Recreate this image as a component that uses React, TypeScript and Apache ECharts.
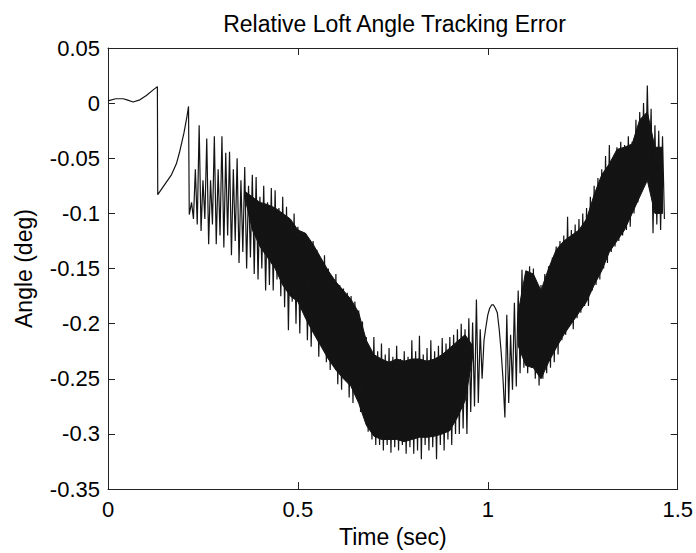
import React, { useEffect, useRef } from "react";
import * as echarts from "echarts";

const TITLE = "Relative Loft Angle Tracking Error";
const X_NAME = "Time (sec)";
const Y_NAME = "Angle (deg)";
const X_MIN = 0;
const X_MAX = 1.5;
const X_STEP = 0.5;
const Y_MIN = -0.35;
const Y_MAX = 0.05;
const Y_STEP = 0.05;

// smooth start of the signal (time, angle)
const earlyTime = [0, 0.02, 0.04, 0.05, 0.066, 0.084, 0.101, 0.119, 0.13, 0.131, 0.145, 0.167, 0.18, 0.188, 0.2, 0.208, 0.212, 0.214];
const earlyAngle = [0.002, 0.004, 0.004, 0.003, 0.001, 0.003, 0.007, 0.012, 0.015, -0.083, -0.076, -0.065, -0.055, -0.045, -0.027, -0.012, -0.003, -0.101];

// oscillating part: peaks at spikeStart + i*spikeStep, troughs half a step later
const spikeStart = 0.22;
const spikeStep = 0.01;
const spikeTop = [
  -0.09, -0.06, -0.02, -0.07, -0.032, -0.07, -0.03, -0.06, -0.03, -0.045,
  -0.044, -0.06, -0.05, -0.07, -0.058, -0.075, -0.065, -0.067, -0.085, -0.075,
  -0.09, -0.077, -0.079, -0.095, -0.085, -0.094, -0.11, -0.1, -0.112, -0.125,
  -0.118, -0.13, -0.125, -0.133, -0.145, -0.138, -0.15, -0.16, -0.155, -0.165,
  -0.168, -0.172, -0.175, -0.18, -0.188, -0.198, -0.212, -0.222, -0.212, -0.225,
  -0.218, -0.228, -0.222, -0.23, -0.22, -0.232, -0.225, -0.23, -0.215, -0.225,
  -0.211, -0.228, -0.222, -0.215, -0.225, -0.22, -0.213, -0.218, -0.212, -0.21,
  -0.205, -0.2, -0.205, -0.195, -0.199, -0.178, -0.205, -0.215, -0.192, -0.183,
  -0.186, -0.205, -0.25, -0.192, -0.21, -0.181, -0.17, -0.151, -0.155, -0.148,
  -0.15, -0.17, -0.165, -0.155, -0.148, -0.14, -0.13, -0.125, -0.12, -0.103,
  -0.115, -0.11, -0.105, -0.1, -0.095, -0.085, -0.075, -0.068, -0.06, -0.048,
  -0.038, -0.05, -0.04, -0.035, -0.038, -0.03, -0.035, -0.015, -0.008, 0.0,
  0.016, -0.005, -0.02, -0.025, -0.03,
];
const spikeBottom = [
  -0.105, -0.11, -0.116, -0.105, -0.128, -0.11, -0.128, -0.12, -0.131, -0.12,
  -0.138, -0.125, -0.145, -0.135, -0.15, -0.14, -0.155, -0.16, -0.15, -0.17,
  -0.165, -0.17, -0.16, -0.175, -0.185, -0.206, -0.18, -0.2, -0.209, -0.19,
  -0.215, -0.221, -0.205, -0.23, -0.22, -0.235, -0.242, -0.23, -0.255, -0.26,
  -0.25, -0.267, -0.272, -0.26, -0.28, -0.285, -0.298, -0.305, -0.31, -0.31,
  -0.315, -0.31, -0.317, -0.312, -0.315, -0.31, -0.318, -0.312, -0.318, -0.315,
  -0.323, -0.31, -0.315, -0.312, -0.323, -0.31, -0.315, -0.305, -0.31, -0.3,
  -0.3, -0.295, -0.3, -0.28, -0.275, -0.272, -0.25, -0.203, -0.186, -0.183,
  -0.19, -0.225, -0.285, -0.272, -0.26, -0.257, -0.245, -0.24, -0.245, -0.24,
  -0.25, -0.256, -0.25, -0.245, -0.24, -0.235, -0.228, -0.215, -0.21, -0.2,
  -0.205, -0.195, -0.19, -0.184, -0.184, -0.17, -0.165, -0.16, -0.15, -0.145,
  -0.135, -0.13, -0.125, -0.12, -0.115, -0.112, -0.1, -0.09, -0.08, -0.07,
  -0.065, -0.118, -0.11, -0.115, -0.105,
];

// solid dense band (upper / lower edge) sampled every coreStep
const coreStep = 0.02;
const coreLeftStart = 0.36;
const coreLeftTop = [
  -0.08, -0.085, -0.09, -0.092, -0.095, -0.1, -0.105, -0.115, -0.118, -0.128,
  -0.14, -0.152, -0.162, -0.17, -0.178, -0.19, -0.215, -0.228, -0.232, -0.235,
  -0.232, -0.234, -0.232, -0.232, -0.234, -0.232, -0.228, -0.222, -0.216, -0.21,
  -0.22,
];
const coreLeftBottom = [
  -0.085, -0.115, -0.13, -0.14, -0.15, -0.165, -0.175, -0.18, -0.195, -0.208,
  -0.22, -0.232, -0.242, -0.25, -0.257, -0.272, -0.292, -0.302, -0.305, -0.305,
  -0.305, -0.307, -0.305, -0.303, -0.303, -0.302, -0.3, -0.297, -0.285, -0.27,
  -0.23,
];
const coreRightStart = 1.08;
const coreRightTop = [
  -0.19, -0.152, -0.155, -0.17, -0.15, -0.133, -0.125, -0.12, -0.115, -0.105,
  -0.083, -0.065, -0.055, -0.042, -0.04, -0.037, -0.015, -0.008, -0.04, -0.04,
];
const coreRightBottom = [
  -0.22, -0.238, -0.24, -0.25, -0.235, -0.222, -0.21, -0.2, -0.19, -0.18,
  -0.165, -0.152, -0.135, -0.125, -0.115, -0.1, -0.085, -0.07, -0.1, -0.1,
];

const FONT = "'Liberation Sans', Arial, Helvetica, sans-serif";
const INK = "#141414";
const AXIS = "#222222";

function r(v: number) {
  return Math.round(v * 10000) / 10000;
}

function buildSignal(): number[][] {
  const pts: number[][] = earlyTime.map((t, i) => [t, earlyAngle[i]]);
  spikeTop.forEach((v, i) => {
    const t = spikeStart + i * spikeStep;
    pts.push([r(t), v]);
    pts.push([r(t + spikeStep / 2), spikeBottom[i]]);
  });
  return pts;
}

const bands = [
  { start: coreLeftStart, top: coreLeftTop, bottom: coreLeftBottom },
  { start: coreRightStart, top: coreRightTop, bottom: coreRightBottom },
];

const fmtY = (v: number) => String(Math.round(v * 100) / 100);
const fmtX = (v: number) => String(Math.round(v * 10) / 10);

export default function App() {
  const ref = useRef<HTMLDivElement>(null);

  useEffect(() => {
    if (!ref.current) return;
    const chart = echarts.init(ref.current, undefined, { renderer: "svg" });

    const axisCommon = {
      type: "value",
      splitLine: { show: false },
      axisLine: { show: true, onZero: false, lineStyle: { color: AXIS, width: 1 } },
      axisTick: { show: true, inside: true, length: 7, lineStyle: { color: AXIS, width: 1 } },
    };

    const option: any = {
      animation: false,
      backgroundColor: "#ffffff",
      title: {
        text: TITLE,
        left: 394.5,
        top: 12.5,
        padding: 0,
        textAlign: "center",
        textStyle: { fontFamily: FONT, fontSize: 23, fontWeight: "normal", color: "#000" },
      },
      grid: { left: 108, top: 48, right: 15, bottom: 63, containLabel: false },
      xAxis: [
        {
          ...axisCommon,
          position: "bottom",
          min: X_MIN,
          max: X_MAX,
          interval: X_STEP,
          name: X_NAME,
          nameLocation: "middle",
          nameGap: 35.5,
          nameTextStyle: { fontFamily: FONT, fontSize: 23, color: "#000" },
          axisLabel: { show: true, margin: 9, fontFamily: FONT, fontSize: 22, color: "#000", formatter: fmtX, showMinLabel: true, showMaxLabel: true },
        },
        {
          ...axisCommon,
          position: "top",
          min: X_MIN,
          max: X_MAX,
          interval: X_STEP,
          axisLabel: { show: false },
        },
      ],
      yAxis: [
        {
          ...axisCommon,
          position: "left",
          min: Y_MIN,
          max: Y_MAX,
          interval: Y_STEP,
          name: Y_NAME,
          nameLocation: "middle",
          nameGap: 72.5,
          nameTextStyle: { fontFamily: FONT, fontSize: 23, color: "#000" },
          axisLabel: { show: true, margin: 8, fontFamily: FONT, fontSize: 22, color: "#000", formatter: fmtY, showMinLabel: true, showMaxLabel: true },
        },
        {
          ...axisCommon,
          position: "right",
          min: Y_MIN,
          max: Y_MAX,
          interval: Y_STEP,
          axisLabel: { show: false },
        },
      ],
      series: [
        {
          type: "custom",
          coordinateSystem: "cartesian2d",
          xAxisIndex: 0,
          yAxisIndex: 0,
          silent: true,
          z: 2,
          data: bands.map((b, i) => [b.start, b.top[0], i]),
          encode: { x: 0, y: 1 },
          renderItem: (params: any, api: any) => {
            const b = bands[params.dataIndex];
            const upper = b.top.map((v, i) => api.coord([b.start + i * coreStep, v]));
            const lower = b.bottom.map((v, i) => api.coord([b.start + i * coreStep, v])).reverse();
            return {
              type: "polygon",
              shape: { points: upper.concat(lower) },
              style: { fill: INK, stroke: INK, lineWidth: 1 },
            };
          },
        },
        {
          type: "line",
          xAxisIndex: 0,
          yAxisIndex: 0,
          data: buildSignal(),
          showSymbol: false,
          symbol: "none",
          silent: true,
          lineStyle: { color: INK, width: 1.2 },
          z: 3,
        },
      ],
    };

    chart.setOption(option);
    return () => chart.dispose();
  }, []);

  return (
    <div
      ref={ref}
      style={{ position: "absolute", left: 0, top: 0, width: "696px", height: "553px", background: "#fff" }}
    />
  );
}
